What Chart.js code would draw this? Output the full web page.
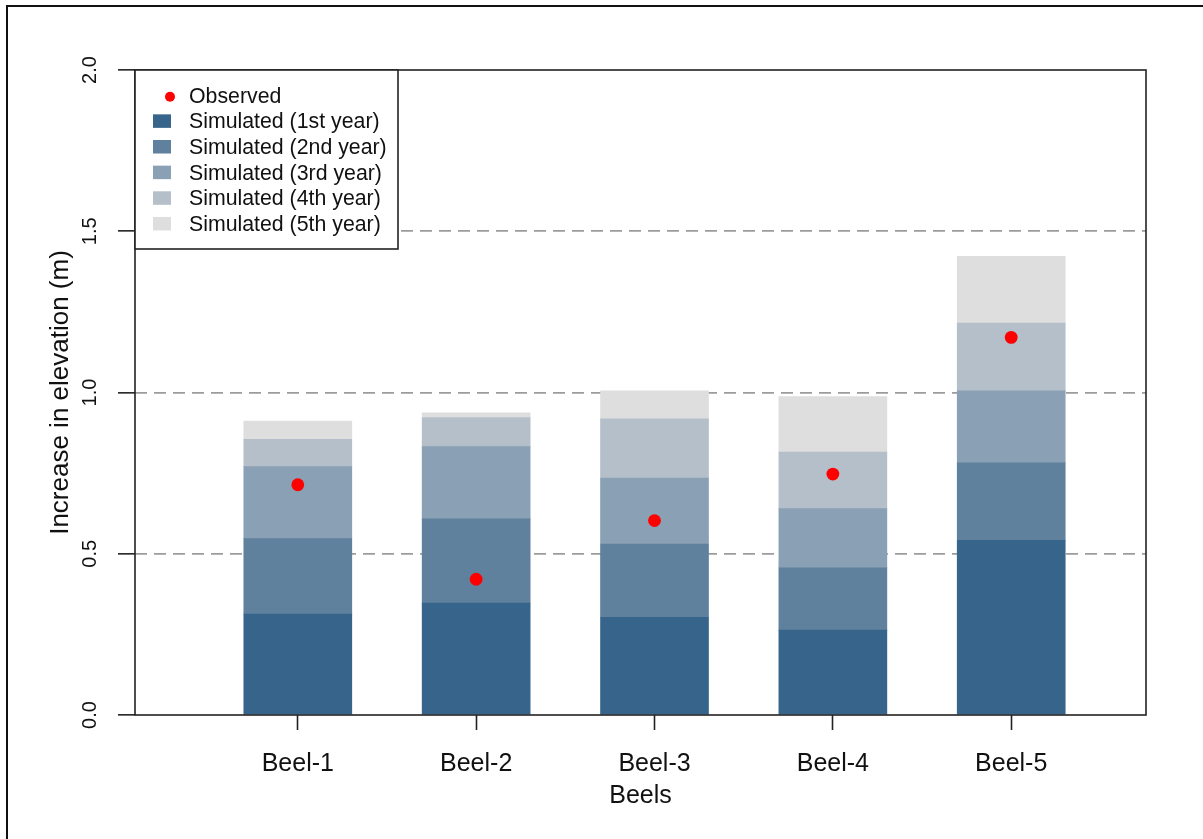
<!DOCTYPE html>
<html>
<head>
<meta charset="utf-8">
<title>Increase in elevation by beel</title>
<script src="https://cdn.jsdelivr.net/npm/chart.js@4.4.1/dist/chart.umd.min.js"></script>
<style>
  html, body { margin: 0; padding: 0; background: #ffffff; }
  #wrap { position: relative; width: 1203px; height: 839px; }
  #frame { position: absolute; left: 6px; top: 5px; right: 0; bottom: 0;
           border-top: 2px solid #111; border-left: 2px solid #111; pointer-events: none; }
</style>
</head>
<body>
<div id="wrap">
  <canvas id="chart" width="1203" height="839"></canvas>
  <div id="frame"></div>
</div>
<script>
// Beels and the yearly simulated elevation gain (m) stacked per beel
const categories = ['Beel-1', 'Beel-2', 'Beel-3', 'Beel-4', 'Beel-5'];
const year1 = [0.313, 0.347, 0.303, 0.263, 0.542];
const year2 = [0.234, 0.261, 0.227, 0.193, 0.240];
const year3 = [0.223, 0.224, 0.205, 0.184, 0.223];
const year4 = [0.085, 0.090, 0.183, 0.175, 0.210];
const year5 = [0.056, 0.015, 0.087, 0.172, 0.207];
const observed = [0.714, 0.421, 0.603, 0.747, 1.171];
const yTicks = [0.0, 0.5, 1.0, 1.5, 2.0];

const seriesLabels = ['Simulated (1st year)', 'Simulated (2nd year)', 'Simulated (3rd year)',
                      'Simulated (4th year)', 'Simulated (5th year)'];
const seriesColors = ['#37648b', '#5f819e', '#8aa0b4', '#b4bfca', '#dedede'];
const simulated = [year1, year2, year3, year4, year5];

const FONT = '"Liberation Sans", Arial, Helvetica, sans-serif';
Chart.defaults.font.family = FONT;
Chart.defaults.color = '#111';

const toPoints = arr => arr.map((v, i) => ({ x: i, y: v }));

const datasets = [
  {
    type: 'scatter',
    label: 'Observed',
    data: toPoints(observed),
    backgroundColor: '#ff0000',
    borderWidth: 0,
    pointRadius: 6.4,
    pointHoverRadius: 6.4,
    stack: 'observed'
  },
  ...simulated.map((vals, k) => ({
    type: 'bar',
    label: seriesLabels[k],
    data: toPoints(vals),
    backgroundColor: seriesColors[k],
    borderWidth: 0,
    barThickness: 108,
    stack: 'simulated'
  }))
];

// plot frame drawn over the bars
const plotBox = {
  id: 'plotBox',
  afterDatasetsDraw(chart) {
    const { ctx, chartArea: a } = chart;
    ctx.save();
    ctx.strokeStyle = '#222';
    ctx.lineWidth = 1.6;
    ctx.strokeRect(a.left, a.top, a.right - a.left, a.bottom - a.top);
    ctx.restore();
  }
};

// boxed legend in the top-left corner of the plot
const legendBox = {
  id: 'legendBox',
  afterDraw(chart) {
    const { ctx, chartArea: a } = chart;
    const x0 = a.left, y0 = a.top, w = 263, h = 179;
    ctx.save();
    ctx.fillStyle = '#ffffff';
    ctx.fillRect(x0, y0, w, h);
    ctx.strokeStyle = '#222';
    ctx.lineWidth = 1.6;
    ctx.strokeRect(x0, y0, w, h);
    ctx.font = '21.3px ' + FONT;
    ctx.textBaseline = 'middle';
    ctx.textAlign = 'left';
    chart.data.datasets.forEach((ds, i) => {
      const cy = y0 + 26.7 + i * 25.65;
      ctx.fillStyle = ds.backgroundColor;
      if (ds.type === 'scatter') {
        ctx.beginPath();
        ctx.arc(x0 + 35, cy, 5, 0, Math.PI * 2);
        ctx.fill();
      } else {
        ctx.fillRect(x0 + 18, cy - 8, 18, 13.5);
      }
      ctx.fillStyle = '#111';
      ctx.fillText(ds.label, x0 + 54, cy);
    });
    ctx.restore();
  }
};

new Chart(document.getElementById('chart'), {
  type: 'bar',
  data: { datasets },
  plugins: [plotBox, legendBox],
  options: {
    responsive: false,
    animation: false,
    layout: { padding: { left: 0, top: 70, right: 57, bottom: 0 } },
    plugins: { legend: { display: false }, tooltip: { enabled: false } },
    scales: {
      x: {
        type: 'linear',
        stacked: true,
        offset: false,
        bounds: 'data',
        min: -0.9128,
        max: 4.7557,
        afterFit(scale) { scale.height = 124; },
        afterBuildTicks(scale) { scale.ticks = categories.map((_, i) => ({ value: i })); },
        grid: {
          display: true,
          offset: false,
          drawOnChartArea: false,
          drawTicks: true,
          tickLength: 15,
          tickColor: '#222',
          tickWidth: 1.6
        },
        border: { display: false },
        ticks: {
          autoSkip: false,
          maxRotation: 0,
          minRotation: 0,
          padding: 19,
          font: { size: 25, lineHeight: 1.2 },
          color: '#111',
          callback: v => categories[Math.round(v)] ?? ''
        },
        title: {
          display: true,
          text: 'Beels',
          color: '#111',
          font: { size: 25, lineHeight: 1.2 },
          padding: { top: 0, bottom: 28 }
        }
      },
      y: {
        stacked: true,
        min: 0,
        max: 2,
        afterFit(scale) { scale.width = 135; },
        afterBuildTicks(scale) { scale.ticks = yTicks.map(v => ({ value: v })); },
        grid: {
          drawTicks: true,
          tickLength: 17,
          tickColor: '#222',
          tickWidth: 1.6,
          tickBorderDash: [],
          lineWidth: 1.7,
          color: c => (c.tick && (c.tick.value === 0 || c.tick.value === 2)) ? 'rgba(0,0,0,0)' : '#9c9c9c'
        },
        border: { display: false, dash: [12, 7] },
        ticks: {
          minRotation: 90,
          maxRotation: 90,
          crossAlign: 'center',
          padding: 14,
          font: { size: 20, lineHeight: 1.2 },
          color: '#111',
          callback: v => Number(v).toFixed(1)
        },
        title: {
          display: true,
          text: 'Increase in elevation (m)',
          color: '#111',
          font: { size: 26, lineHeight: 1.2 },
          padding: { top: 45, bottom: 0 }
        }
      }
    }
  }
});
</script>
</body>
</html>
